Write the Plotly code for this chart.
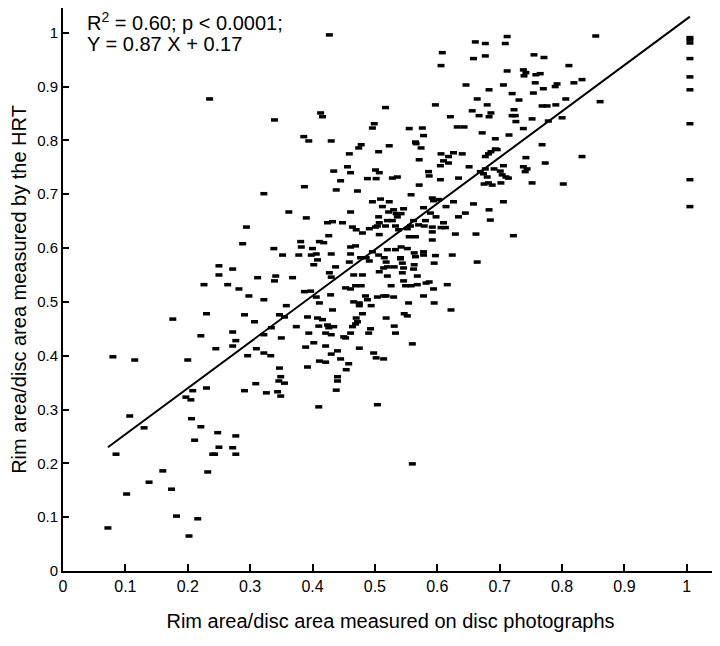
import plotly.graph_objects as go

# ---- data ----
photo_x = [
    # left part
    .235,.250,.272,.250,.226,.264,.282,.176,.230,.221,.272,.277,.272,.245,.080,.115,.200,.208,.230,.197,
    .205,.107,.206,.130,.221,.211,.248,.272,.277,.250,.240,.243,.277,.085,.160,.232,.138,.174,.102,.182,
    .216,.202,.072,
    # upper middle
    .427,.517,.339,.413,.416,.499,.496,.386,.394,.430,.474,.478,.523,
    # middle band 0.55-0.78
    .459,.506,.434,.456,.461,.501,.507,.488,.502,.528,.536,.445,.438,.472,.387,.322,.496,.509,.523,.512,
    .522,.530,.534,.536,.362,.461,.390,.424,.432,.448,.294,.506,.507,.520,.528,.464,.470,.491,.501,.504,
    .517,.533,.480,.507,.538,.426,.288,.381,.382,.411,.418,.338,.400,.406,.352,.378,.398,.430,.461,.469,
    .461,.477,.486,.496,.506,.515,.518,.520,.533,.541,.408,.402,.437,.459,.491,.507,.514,.520,.531,.520,
    .427,.430,.466,.480,.312,.341,.339,.368,
    # lower middle band 0.3-0.55
    .469,.478,.453,.461,.526,.387,.397,.298,.322,.406,.429,.411,.485,.466,.475,.475,.488,.494,.504,.514,
    .518,.530,.358,.432,.291,.347,.355,.392,.408,.416,.480,.307,.470,.472,.469,.464,.518,.334,.322,.374,
    .410,.424,.426,.434,.531,.394,.421,.430,.461,.450,.453,.493,.490,.533,.350,.402,.389,.421,.440,.430,
    .475,.310,.322,.333,.296,.445,.411,.421,.498,.502,.514,.458,.454,.392,.347,.440,.440,.349,.346,.355,
    .344,.309,.438,.291,.326,.349,.410,.504,
    # right middle band 0.55-0.78
    .606,.618,.626,.640,.682,.686,.696,.677,.571,.610,.618,.605,.651,.677,.669,.674,.691,.701,.706,.742,
    .773,.738,.744,.741,.586,.587,.680,.704,.710,.714,.634,.605,.571,.675,.682,.688,.702,.752,.558,.592,
    .594,.602,.626,.658,.706,.578,.546,.542,.589,.598,.614,.645,.634,.683,.685,.562,.557,.552,.570,.579,
    .581,.610,.606,.613,.592,.592,.555,.565,.592,.629,.662,.722,.542,.552,.563,.565,.578,.578,.597,.624,
    .541,.544,.563,.562,.568,.595,.664,.546,.544,
    # right lower band
    .546,.549,.558,.568,.582,.587,.594,.616,.578,.554,.595,.622,.547,.552,.560,.560,
    # right upper band
    .712,.661,.677,.709,.608,.658,.677,.606,.755,.771,.712,.738,.742,.739,.758,.765,.646,.683,.706,.757,
    .770,.792,.789,.720,.754,.664,.731,.597,.680,.768,.776,.790,.656,.686,.683,.723,.667,.720,.725,.621,
    .752,.726,.778,.555,.576,.632,.643,.738,.578,.672,.715,.565,.566,.693,.768,.574,.693,
    # far right
    .854,.811,.819,.832,.861,.806,.800,.832,.802,
    1.005,1.005,1.005,1.005,1.005,1.005,1.005,1.005,1.005,
]

hrt_y = [
    # left part
    .877,.567,.561,.550,.532,.532,.524,.468,.478,.437,.444,.428,.418,.413,.398,.392,.392,.335,.340,.323,
    .318,.288,.283,.266,.268,.243,.257,.229,.251,.230,.217,.217,.217,.217,.186,.184,.165,.152,.143,.102,
    .097,.065,.080,
    # upper middle
    .996,.861,.838,.851,.844,.831,.823,.807,.799,.799,.786,.792,.790,
    # middle band 0.55-0.78
    .775,.779,.743,.751,.740,.745,.740,.729,.729,.730,.732,.725,.708,.706,.714,.701,.686,.691,.686,.677,
    .667,.671,.664,.658,.667,.667,.656,.647,.649,.647,.639,.658,.647,.651,.651,.639,.634,.636,.639,.641,
    .641,.641,.628,.625,.634,.623,.608,.612,.602,.612,.610,.599,.599,.589,.587,.587,.587,.589,.602,.604,
    .589,.582,.582,.593,.587,.582,.574,.597,.597,.582,.578,.569,.565,.574,.576,.556,.563,.565,.565,.548,
    .554,.546,.550,.550,.545,.548,.539,.545,
    # lower middle band 0.3-0.55
    .530,.530,.526,.524,.530,.519,.520,.511,.504,.509,.513,.498,.511,.500,.498,.493,.504,.493,.509,.511,
    .511,.509,.493,.485,.476,.476,.472,.472,.470,.467,.478,.463,.470,.463,.459,.454,.470,.452,.439,.454,
    .455,.457,.452,.454,.455,.442,.442,.439,.442,.435,.433,.450,.442,.442,.433,.424,.416,.418,.409,.403,
    .414,.413,.405,.400,.400,.394,.390,.388,.405,.396,.394,.385,.374,.379,.377,.361,.353,.361,.353,.349,
    .333,.348,.336,.335,.331,.325,.305,.309,
    # right middle band 0.55-0.78
    .775,.770,.777,.775,.775,.779,.783,.770,.764,.762,.758,.753,.751,.747,.742,.738,.747,.743,.753,.768,
    .758,.751,.747,.742,.742,.734,.732,.736,.732,.730,.730,.727,.717,.719,.721,.717,.721,.721,.699,.693,
    .688,.690,.686,.682,.686,.675,.673,.664,.665,.658,.677,.665,.658,.671,.652,.651,.641,.636,.643,.641,
    .651,.647,.638,.638,.639,.630,.621,.621,.615,.626,.626,.623,.602,.599,.591,.584,.593,.587,.586,.587,
    .580,.572,.569,.561,.548,.572,.574,.563,.554,
    # right lower band
    .539,.530,.530,.532,.535,.537,.524,.532,.511,.498,.498,.485,.478,.474,.422,.199,
    # right upper band
    .993,.983,.980,.980,.963,.952,.957,.939,.959,.954,.929,.931,.926,.920,.922,.924,.903,.894,.903,.907,
    .896,.905,.900,.887,.888,.877,.875,.866,.866,.864,.864,.866,.855,.851,.844,.857,.846,.846,.846,.844,
    .840,.835,.836,.822,.823,.825,.825,.822,.809,.814,.810,.797,.794,.803,.792,.786,.784,
    # far right
    .994,.939,.907,.913,.872,.877,.842,.770,.719,
    .991,.987,.981,.952,.918,.894,.831,.727,.677,
]

fit_x = [0.072, 1.005]
fit_y = [0.23, 1.03]

x_ticks = [0, 0.1, 0.2, 0.3, 0.4, 0.5, 0.6, 0.7, 0.8, 0.9, 1]
x_tick_text = ["0", "0.1", "0.2", "0.3", "0.4", "0.5", "0.6", "0.7", "0.8", "0.9", "1"]
y_ticks = [0, 0.1, 0.2, 0.3, 0.4, 0.5, 0.6, 0.7, 0.8, 0.9, 1]
y_tick_text = ["0", "0.1", "0.2", "0.3", "0.4", "0.5", "0.6", "0.7", "0.8", "0.9", "1"]

FONT = "Liberation Sans, Arial, Helvetica, sans-serif"

fig = go.Figure()
fig.add_trace(go.Scatter(
    x=photo_x, y=hrt_y, mode="markers",
    marker=dict(symbol="line-ew", size=5, color="black",
                line=dict(color="black", width=3.5)),
    showlegend=False, hoverinfo="skip",
))
fig.add_trace(go.Scatter(
    x=fit_x, y=fit_y, mode="lines",
    line=dict(color="black", width=2),
    showlegend=False, hoverinfo="skip",
))

fig.add_annotation(x=0.036, y=1.020, xref="x", yref="y", xanchor="left", yanchor="middle",
                   text="R<sup>2</sup> = 0.60; p &lt; 0.0001;", showarrow=False,
                   font=dict(family=FONT, size=20, color="black"))
fig.add_annotation(x=0.036, y=0.979, xref="x", yref="y", xanchor="left", yanchor="middle",
                   text="Y = 0.87 X + 0.17", showarrow=False,
                   font=dict(family=FONT, size=20, color="black"))

# page body has an 8px margin: figure is sized to fill the rest of the window
fig.update_layout(
    width=712, height=638,
    margin=dict(l=55, r=2, t=0, b=75),
    paper_bgcolor="white", plot_bgcolor="white",
    font=dict(family=FONT, color="black"),
)
fig.update_xaxes(
    range=[0, 1.05], tickvals=x_ticks, ticktext=x_tick_text,
    showline=True, linecolor="black", linewidth=2,
    ticks="inside", ticklen=7, tickwidth=2, tickcolor="black",
    showgrid=False, zeroline=False,
    tickfont=dict(family=FONT, size=16, color="black"),
    title=dict(text="Rim area/disc area measured on disc photographs",
               font=dict(family=FONT, size=20, color="black"), standoff=20),
    automargin=False,
)
fig.update_yaxes(
    range=[0, 1.046], tickvals=y_ticks, ticktext=y_tick_text,
    showline=True, linecolor="black", linewidth=2,
    ticks="inside", ticklen=6, tickwidth=2, tickcolor="black",
    showgrid=False, zeroline=False,
    tickfont=dict(family=FONT, size=15, color="black"),
    title=dict(text="Rim area/disc area measured by the HRT",
               font=dict(family=FONT, size=20, color="black"), standoff=10),
    automargin=False,
)

fig.write_html("out.html")
